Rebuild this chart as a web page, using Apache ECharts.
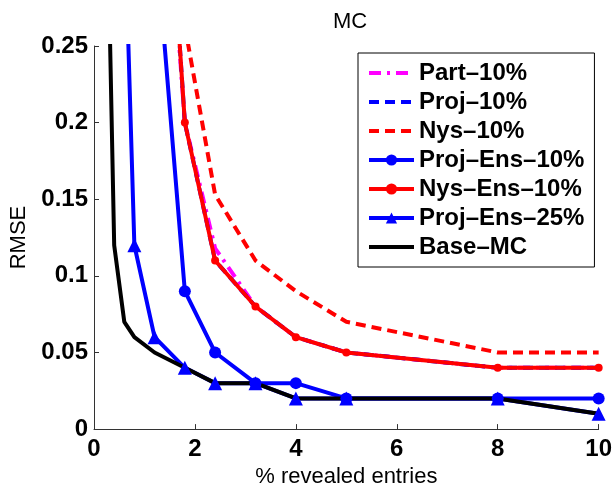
<!DOCTYPE html>
<html>
<head>
<meta charset="utf-8">
<script src="https://cdn.jsdelivr.net/npm/echarts@6/dist/echarts.min.js"></script>
<style>html,body{margin:0;padding:0;background:#fff}#c{width:615px;height:493px}</style>
</head>
<body>
<div id="c"></div>
<script>
// % revealed entries
var xs = [0.2, 0.4, 0.6, 0.8, 1.2, 1.8, 2.4, 3.2, 4, 5, 8, 10];
var part10    = [null, null, null, null, 0.47, 0.2, 0.118, 0.08, 0.06, 0.05, 0.04, 0.04];
var proj10    = [null, null, null, null, 0.5, 0.2, 0.11, 0.08, 0.06, 0.05, 0.04, 0.04];
var nys10     = [null, null, null, null, null, 0.263, 0.153, 0.11, 0.09, 0.07, 0.05, 0.05];
var projEns10 = [null, null, null, null, 0.33, 0.09, 0.05, 0.03, 0.03, 0.02, 0.02, 0.02];
var nysEns10  = [null, null, null, null, 0.5, 0.2, 0.11, 0.08, 0.06, 0.05, 0.04, 0.04];
var projEns25 = [null, null, 0.34, 0.12, 0.06, 0.04, 0.03, 0.03, 0.02, 0.02, 0.02, 0.01];
var baseMC    = [0.445, 0.12, 0.07, 0.06, 0.05, 0.04, 0.03, 0.03, 0.02, 0.02, 0.02, 0.01];
var names = ['Part–10%', 'Proj–10%', 'Nys–10%', 'Proj–Ens–10%', 'Nys–Ens–10%', 'Proj–Ens–25%', 'Base–MC'];
var xTicks = [0, 2, 4, 6, 8, 10];
var yTicks = [0, 0.05, 0.1, 0.15, 0.2, 0.25];

function pairs(v) {
  var out = [];
  for (var i = 0; i < xs.length; i++) out.push([xs[i], v[i]]);
  return out;
}
var FONT = '"Liberation Sans", Arial, Helvetica, sans-serif';
function mk(name, vals, color, dash, symbol, size) {
  return {
    name: name, type: 'line', data: pairs(vals), connectNulls: false,
    symbol: symbol || 'none', symbolSize: size || 0, showSymbol: !!symbol,
    clip: true, animation: false,
    lineStyle: { color: color, width: 4, type: dash || 'solid', cap: 'butt' },
    itemStyle: { color: color, borderWidth: 0 }
  };
}
var noMarker = { 'Part–10%': 1, 'Proj–10%': 1, 'Nys–10%': 1, 'Base–MC': 1 };
var legendData = names.map(function (n) {
  return noMarker[n] ? { name: n, itemStyle: { color: 'rgba(0,0,0,0)', borderWidth: 0 } } : { name: n };
});
var chart = echarts.init(document.getElementById('c'), null, { renderer: 'canvas' });
chart.setOption({
  animation: false,
  backgroundColor: '#fff',
  title: {
    text: 'MC', left: 345, top: 6, textAlign: 'center',
    textStyle: { fontFamily: FONT, fontSize: 22, fontWeight: 'normal', color: '#000' }
  },
  grid: { left: 92, right: 16, top: 46, bottom: 55, containLabel: false },
  xAxis: {
    type: 'value', min: xTicks[0], max: xTicks[xTicks.length - 1], interval: 2,
    name: '% revealed entries', nameLocation: 'middle', nameGap: 32,
    nameTextStyle: { fontFamily: FONT, fontSize: 22, color: '#000' },
    axisLine: { show: true, lineStyle: { color: '#333', width: 1 } },
    axisTick: { show: true, inside: true, length: 5, lineStyle: { color: '#333' } },
    axisLabel: { margin: 8, fontFamily: FONT, fontSize: 24, fontWeight: 'bold', color: '#000' },
    splitLine: { show: false }
  },
  yAxis: {
    type: 'value', min: yTicks[0], max: yTicks[yTicks.length - 1], interval: 0.05,
    name: 'RMSE', nameLocation: 'middle', nameGap: 64, nameRotate: 90,
    nameTextStyle: { fontFamily: FONT, fontSize: 22, color: '#000' },
    axisLine: { show: true, lineStyle: { color: '#333', width: 1 } },
    axisTick: { show: true, inside: true, length: 5, lineStyle: { color: '#333' } },
    axisLabel: { margin: 6, fontFamily: FONT, fontSize: 24, fontWeight: 'bold', color: '#000' },
    splitLine: { show: false }
  },
  legend: {
    data: legendData, orient: 'vertical', left: 358, top: 53,
    padding: [8, 10, 8, 9], itemGap: 5, itemWidth: 45, itemHeight: 14,
    backgroundColor: '#fff', borderColor: '#000', borderWidth: 1,
    lineStyle: { width: 4 },
    textStyle: { fontFamily: FONT, fontSize: 24, fontWeight: 'bold', color: '#000' }
  },
  series: [
    mk(names[0], part10, '#ff00ff', [12, 6, 3, 6]),
    mk(names[1], proj10, '#0000ff', [10, 6]),
    mk(names[2], nys10, '#ff0000', [10, 6]),
    mk(names[3], projEns10, '#0000ff', 'solid', 'circle', 12),
    mk(names[4], nysEns10, '#ff0000', 'solid', 'circle', 8),
    mk(names[5], projEns25, '#0000ff', 'solid', 'triangle', 14),
    mk(names[6], baseMC, '#000000', 'solid')
  ]
});
</script>
</body>
</html>
